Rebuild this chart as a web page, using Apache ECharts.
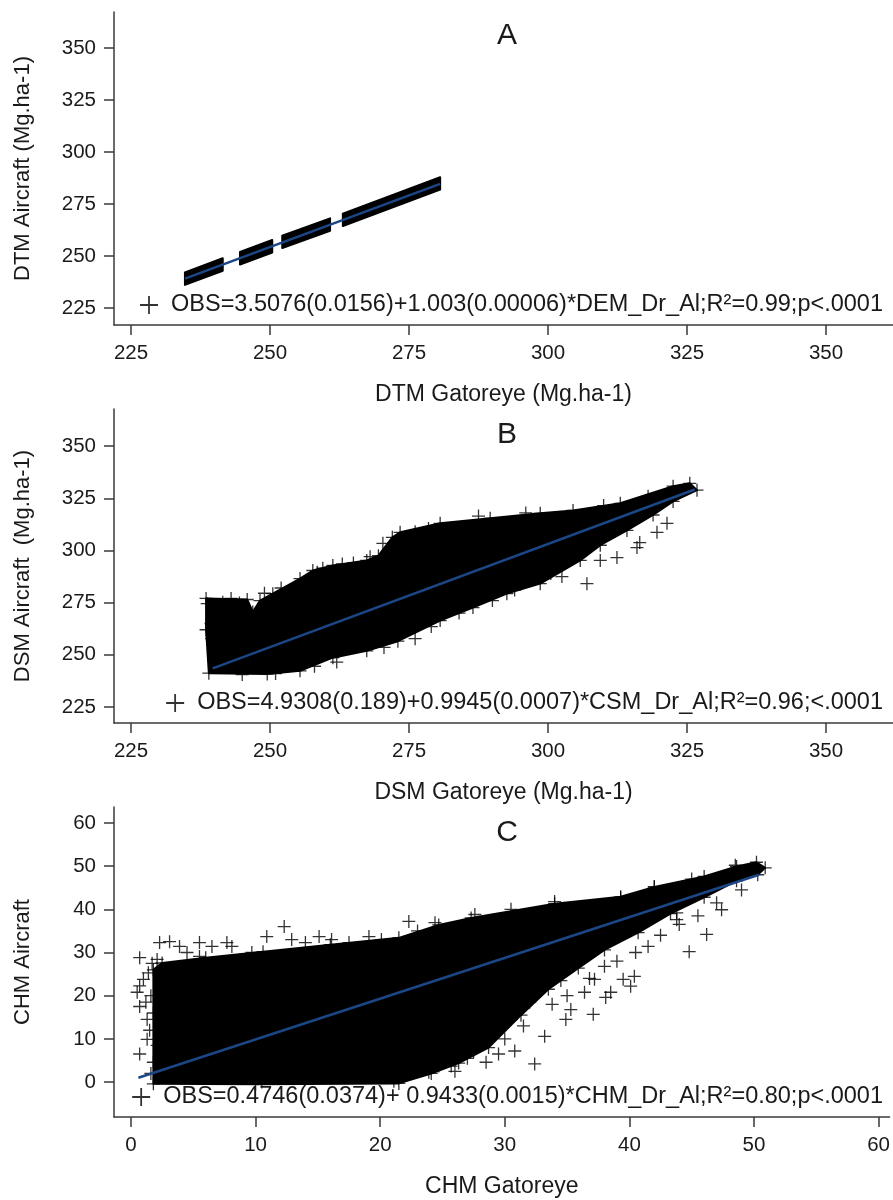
<!DOCTYPE html>
<html>
<head>
<meta charset="utf-8">
<script src="https://cdn.jsdelivr.net/npm/echarts@6/dist/echarts.min.js"></script>
<style>
html,body{margin:0;padding:0;background:#fff;}
#chart{width:893px;height:1200px;}
</style>
</head>
<body>
<div id="chart"></div>
<script>
// ---------- tick labels ----------
const ticksAB = [225, 250, 275, 300, 325, 350];
const ticksCx = [0, 10, 20, 30, 40, 50, 60];
const ticksCy = [0, 10, 20, 30, 40, 50, 60];

// ---------- texts ----------
const eqA = 'OBS=3.5076(0.0156)+1.003(0.00006)*DEM_Dr_Al;R\u00B2=0.99;p<.0001';
const eqB = 'OBS=4.9308(0.189)+0.9945(0.0007)*CSM_Dr_Al;R\u00B2=0.96;<.0001';
const eqC = 'OBS=0.4746(0.0374)+ 0.9433(0.0015)*CHM_Dr_Al;R\u00B2=0.80;p<.0001';

// ---------- panel A: dense point bands (outline of each dense run of points) ----------
const cloudA = [
  [[234.7, 236.1], [241.5, 242.9], [241.5, 248.9], [234.7, 242.1]],
  [[244.6, 245.9], [250.4, 251.7], [250.4, 257.7], [244.6, 251.9]],
  [[252.2, 253.8], [260.8, 262.1], [260.8, 268.1], [252.2, 259.8]],
  [[263.1, 264.4], [280.6, 281.9], [280.6, 287.9], [263.1, 270.4]]
];
const fitA = [[234.7, 239.1], [280.6, 284.7]];

// ---------- panel B ----------
const cloudB = [
  [239.0, 241.2], [249.5, 240.8], [255.4, 242.3], [261.3, 248.6], [267.4, 251.9], [273.0, 256.5],
  [280.6, 266.4], [286.5, 272.6], [292.6, 279.3], [298.6, 284.1], [305.8, 295.2], [309.4, 302.5],
  [314.2, 309.6], [318.9, 317.0], [322.5, 323.5], [326.8, 328.9],
  [325.5, 332.2], [322.5, 330.8], [313.0, 322.6], [304.5, 319.2], [298.6, 317.8], [289.6, 315.4],
  [280.6, 313.0], [273.4, 308.7], [272.0, 306.3], [269.5, 297.5], [267.4, 295.2], [261.3, 292.8],
  [257.7, 290.4], [255.4, 286.5], [250.5, 279.3], [248.2, 276.0], [246.9, 270.5], [245.9, 276.5],
  [238.5, 277.0], [238.5, 262.0]
];
const pointsB = [
  [270.3, 303.4], [276.1, 309.0], [278.5, 310.5], [276.1, 257.7], [256.9, 285.8], [258.5, 289.5],
  [238.7, 274.5], [241.5, 275.2], [244.5, 274.8], [239.5, 257.7], [240.4, 247.1], [239.4, 265.0],
  [307.0, 284.1], [309.4, 295.2], [312.4, 296.6], [316.0, 301.4], [316.5, 303.8], [319.6, 308.7],
  [321.4, 313.0], [300.5, 289.0], [294.0, 281.0], [284.0, 270.0], [251.0, 241.0], [262.0, 246.5],
  [287.5, 316.5], [265.0, 294.0], [249.0, 279.5], [252.0, 282.0], [259.5, 291.5], [263.0, 293.5],
  [268.0, 297.0], [243.0, 277.0], [296.0, 318.0], [310.0, 321.5], [318.0, 326.0], [302.5, 287.5],
  [290.0, 276.0], [279.0, 263.5], [270.5, 253.5], [258.0, 244.5], [245.0, 240.5]
];
const fitB = [[239.7, 243.5], [326.4, 329.2]];

// ---------- panel C ----------
const cloudC = [
  [1.8, -0.4], [10.0, -0.5], [21.5, -0.3], [24.1, 2.0], [26.3, 4.4], [28.7, 8.0], [31.3, 15.5],
  [33.5, 21.5], [35.9, 26.4], [38.0, 30.6], [40.7, 34.6], [43.3, 39.0], [46.0, 42.8], [48.6, 46.6],
  [50.3, 48.0], [50.9, 49.6],
  [50.2, 50.9], [48.6, 49.9], [46.0, 47.6], [42.0, 45.2], [39.3, 42.9], [34.0, 41.3], [27.3, 38.0],
  [24.7, 36.4], [21.5, 33.4], [16.0, 31.8], [10.6, 30.2], [6.0, 28.8], [2.5, 27.6], [1.8, 26.0]
];
const pointsC = [
  // right / lower fringe
  [46.2, 34.2], [44.8, 30.2], [47.4, 39.9], [43.8, 37.6], [41.5, 31.4], [40.4, 24.5], [40.1, 22.2],
  [39.5, 23.8], [38.1, 19.6], [37.1, 15.7], [35.3, 16.8], [34.9, 14.5], [33.2, 10.6], [32.4, 4.2],
  [30.8, 7.2], [28.5, 4.6], [25.7, 3.7], [37.2, 23.8], [36.4, 20.8], [38.0, 26.8], [38.5, 20.8],
  [43.8, 39.2], [30.0, 10.0], [31.5, 13.0], [29.5, 6.5], [33.8, 18.0], [35.0, 20.0], [36.8, 24.0],
  [39.0, 28.0], [40.5, 30.0], [42.5, 34.0], [44.0, 36.5], [45.5, 38.5], [47.0, 41.5], [49.0, 44.5],
  [23.9, 2.3], [24.7, 3.7], [22.8, 3.7], [21.1, 0.2], [27.0, 5.5], [29.0, 11.0], [30.5, 14.5],
  [32.0, 18.5], [27.5, 7.0], [34.5, 23.5], [26.0, 2.5],
  // upper fringe
  [27.6, 38.8], [34.0, 41.8], [39.3, 42.7], [42.0, 45.2], [30.5, 40.0], [45.0, 47.0], [48.5, 50.2],
  [0.7, 28.8], [2.1, 28.4], [2.3, 32.3], [3.1, 32.5], [3.9, 31.4], [5.5, 32.3], [6.5, 31.4],
  [7.7, 32.3], [8.1, 31.4], [5.5, 29.1], [4.5, 30.0], [10.9, 33.7], [12.3, 36.0], [12.9, 33.0],
  [15.1, 33.7], [14.0, 32.3], [16.1, 33.0], [19.1, 33.7], [20.1, 33.0], [22.3, 37.2], [24.4, 36.9],
  [17.5, 32.3], [9.7, 30.0], [23.0, 35.0],
  // left scattered column
  [0.5, 20.8], [0.7, 22.3], [0.7, 17.5], [1.3, 14.5], [1.3, 9.9], [0.7, 6.5], [1.8, 4.6],
  [1.0, 23.8], [1.6, 20.0], [1.7, 27.5], [1.4, 25.3], [1.8, 16.0], [1.5, 12.0], [2.1, 8.5],
  [1.2, 18.5], [1.6, 2.0], [10.5, 0.0]
];
const fitC = [[0.6, 1.0], [50.4, 48.0]];

// ---------- layout ----------
const FONT = "'Liberation Sans', Arial, Helvetica, sans-serif";
const TXT = '#1a1a1a';
const AXC = '#3a3a3a';
const PLUS = 'path://M45,0H55V45H100V55H55V100H45V55H0V45H45Z';

function xAxisOf(gi, min, max, ticks, name) {
  return {
    type: 'value', gridIndex: gi, min: min, max: max,
    name: name, nameLocation: 'middle', nameGap: 58,
    nameTextStyle: {fontFamily: FONT, fontSize: 23, color: TXT},
    axisLine: {show: true, onZero: false, lineStyle: {color: AXC, width: 1.5}},
    axisTick: {show: true, length: 10, customValues: ticks, lineStyle: {color: AXC, width: 1.5}},
    axisLabel: {customValues: ticks, margin: 18, fontFamily: FONT, fontSize: 20.5, color: TXT},
    splitLine: {show: false}
  };
}
function yAxisOf(gi, min, max, ticks, name) {
  return {
    type: 'value', gridIndex: gi, min: min, max: max,
    name: name, nameLocation: 'middle', nameGap: 80, nameRotate: 90,
    nameTextStyle: {fontFamily: FONT, fontSize: 22, color: TXT},
    axisLine: {show: true, onZero: false, lineStyle: {color: AXC, width: 1.5}},
    axisTick: {show: true, length: 10, customValues: ticks, lineStyle: {color: AXC, width: 1.5}},
    axisLabel: {customValues: ticks, margin: 18, fontFamily: FONT, fontSize: 20.5, color: TXT},
    splitLine: {show: false}
  };
}

function polySeries(gi, polys, z) {
  return {
    type: 'custom', xAxisIndex: gi, yAxisIndex: gi, z: z, silent: true,
    data: polys.map(p => p[0]),
    renderItem: function (params, api) {
      const poly = polys[params.dataIndex];
      return {
        type: 'polygon',
        shape: {points: poly.map(pt => api.coord(pt))},
        style: {fill: '#000', stroke: '#000', lineWidth: 2, lineJoin: 'round'}
      };
    }
  };
}
function scatterSeries(gi, name, pts) {
  return {
    type: 'scatter', name: name, xAxisIndex: gi, yAxisIndex: gi, z: 3,
    symbol: PLUS, symbolSize: 13, itemStyle: {color: '#000'},
    data: pts, silent: true
  };
}
// same point cloud, outline vertices shown as markers to keep the ragged edge of the cloud
function edgeSeries(gi, pts) {
  return {
    type: 'scatter', xAxisIndex: gi, yAxisIndex: gi, z: 3,
    symbol: PLUS, symbolSize: 13, itemStyle: {color: '#000'},
    data: pts, silent: true
  };
}
function fitSeries(gi, pts) {
  return {
    type: 'line', xAxisIndex: gi, yAxisIndex: gi, z: 5, silent: true,
    data: pts, symbol: 'none',
    lineStyle: {color: '#1b4786', width: 2.5}
  };
}
function legendOf(name, top) {
  return {
    data: [name], right: 10, top: top, padding: 0, selectedMode: false,
    icon: PLUS, itemWidth: 34, itemHeight: 18,
    textStyle: {fontFamily: FONT, fontSize: 23.5, color: TXT, lineHeight: 24}
  };
}

const chart = echarts.init(document.getElementById('chart'), null, {renderer: 'canvas'});
chart.setOption({
  animation: false,
  backgroundColor: '#fff',
  grid: [
    {left: 114, right: 0, top: 12, height: 313},
    {left: 114, right: 0, top: 409, height: 314},
    {left: 114, right: 0, top: 807, height: 310}
  ],
  xAxis: [
    xAxisOf(0, 221.94, 362.05, ticksAB, 'DTM Gatoreye (Mg.ha-1)'),
    xAxisOf(1, 221.94, 362.05, ticksAB, 'DSM Gatoreye (Mg.ha-1)'),
    xAxisOf(2, -1.36, 60.88, ticksCx, 'CHM Gatoreye')
  ],
  yAxis: [
    yAxisOf(0, 216.83, 367.31, ticksAB, 'DTM Aircraft (Mg.ha-1)'),
    yAxisOf(1, 217.3, 367.8, ticksAB, 'DSM Aircraft  (Mg.ha-1)'),
    yAxisOf(2, -8.08, 63.69, ticksCy, 'CHM Aircraft')
  ],
  legend: [legendOf(eqA, 293), legendOf(eqB, 691), legendOf(eqC, 1085)],
  graphic: [
    {type: 'text', x: 507, y: 36, style: {text: 'A', font: '30px ' + FONT, fill: TXT, align: 'center', verticalAlign: 'middle'}},
    {type: 'text', x: 507, y: 435, style: {text: 'B', font: '30px ' + FONT, fill: TXT, align: 'center', verticalAlign: 'middle'}},
    {type: 'text', x: 507, y: 833, style: {text: 'C', font: '30px ' + FONT, fill: TXT, align: 'center', verticalAlign: 'middle'}}
  ],
  series: [
    scatterSeries(0, eqA, []),
    polySeries(0, cloudA, 2),
    fitSeries(0, fitA),
    scatterSeries(1, eqB, pointsB),
    edgeSeries(1, cloudB),
    polySeries(1, [cloudB], 2),
    fitSeries(1, fitB),
    scatterSeries(2, eqC, pointsC),
    edgeSeries(2, cloudC),
    polySeries(2, [cloudC], 2),
    fitSeries(2, fitC)
  ]
});
</script>
</body>
</html>
